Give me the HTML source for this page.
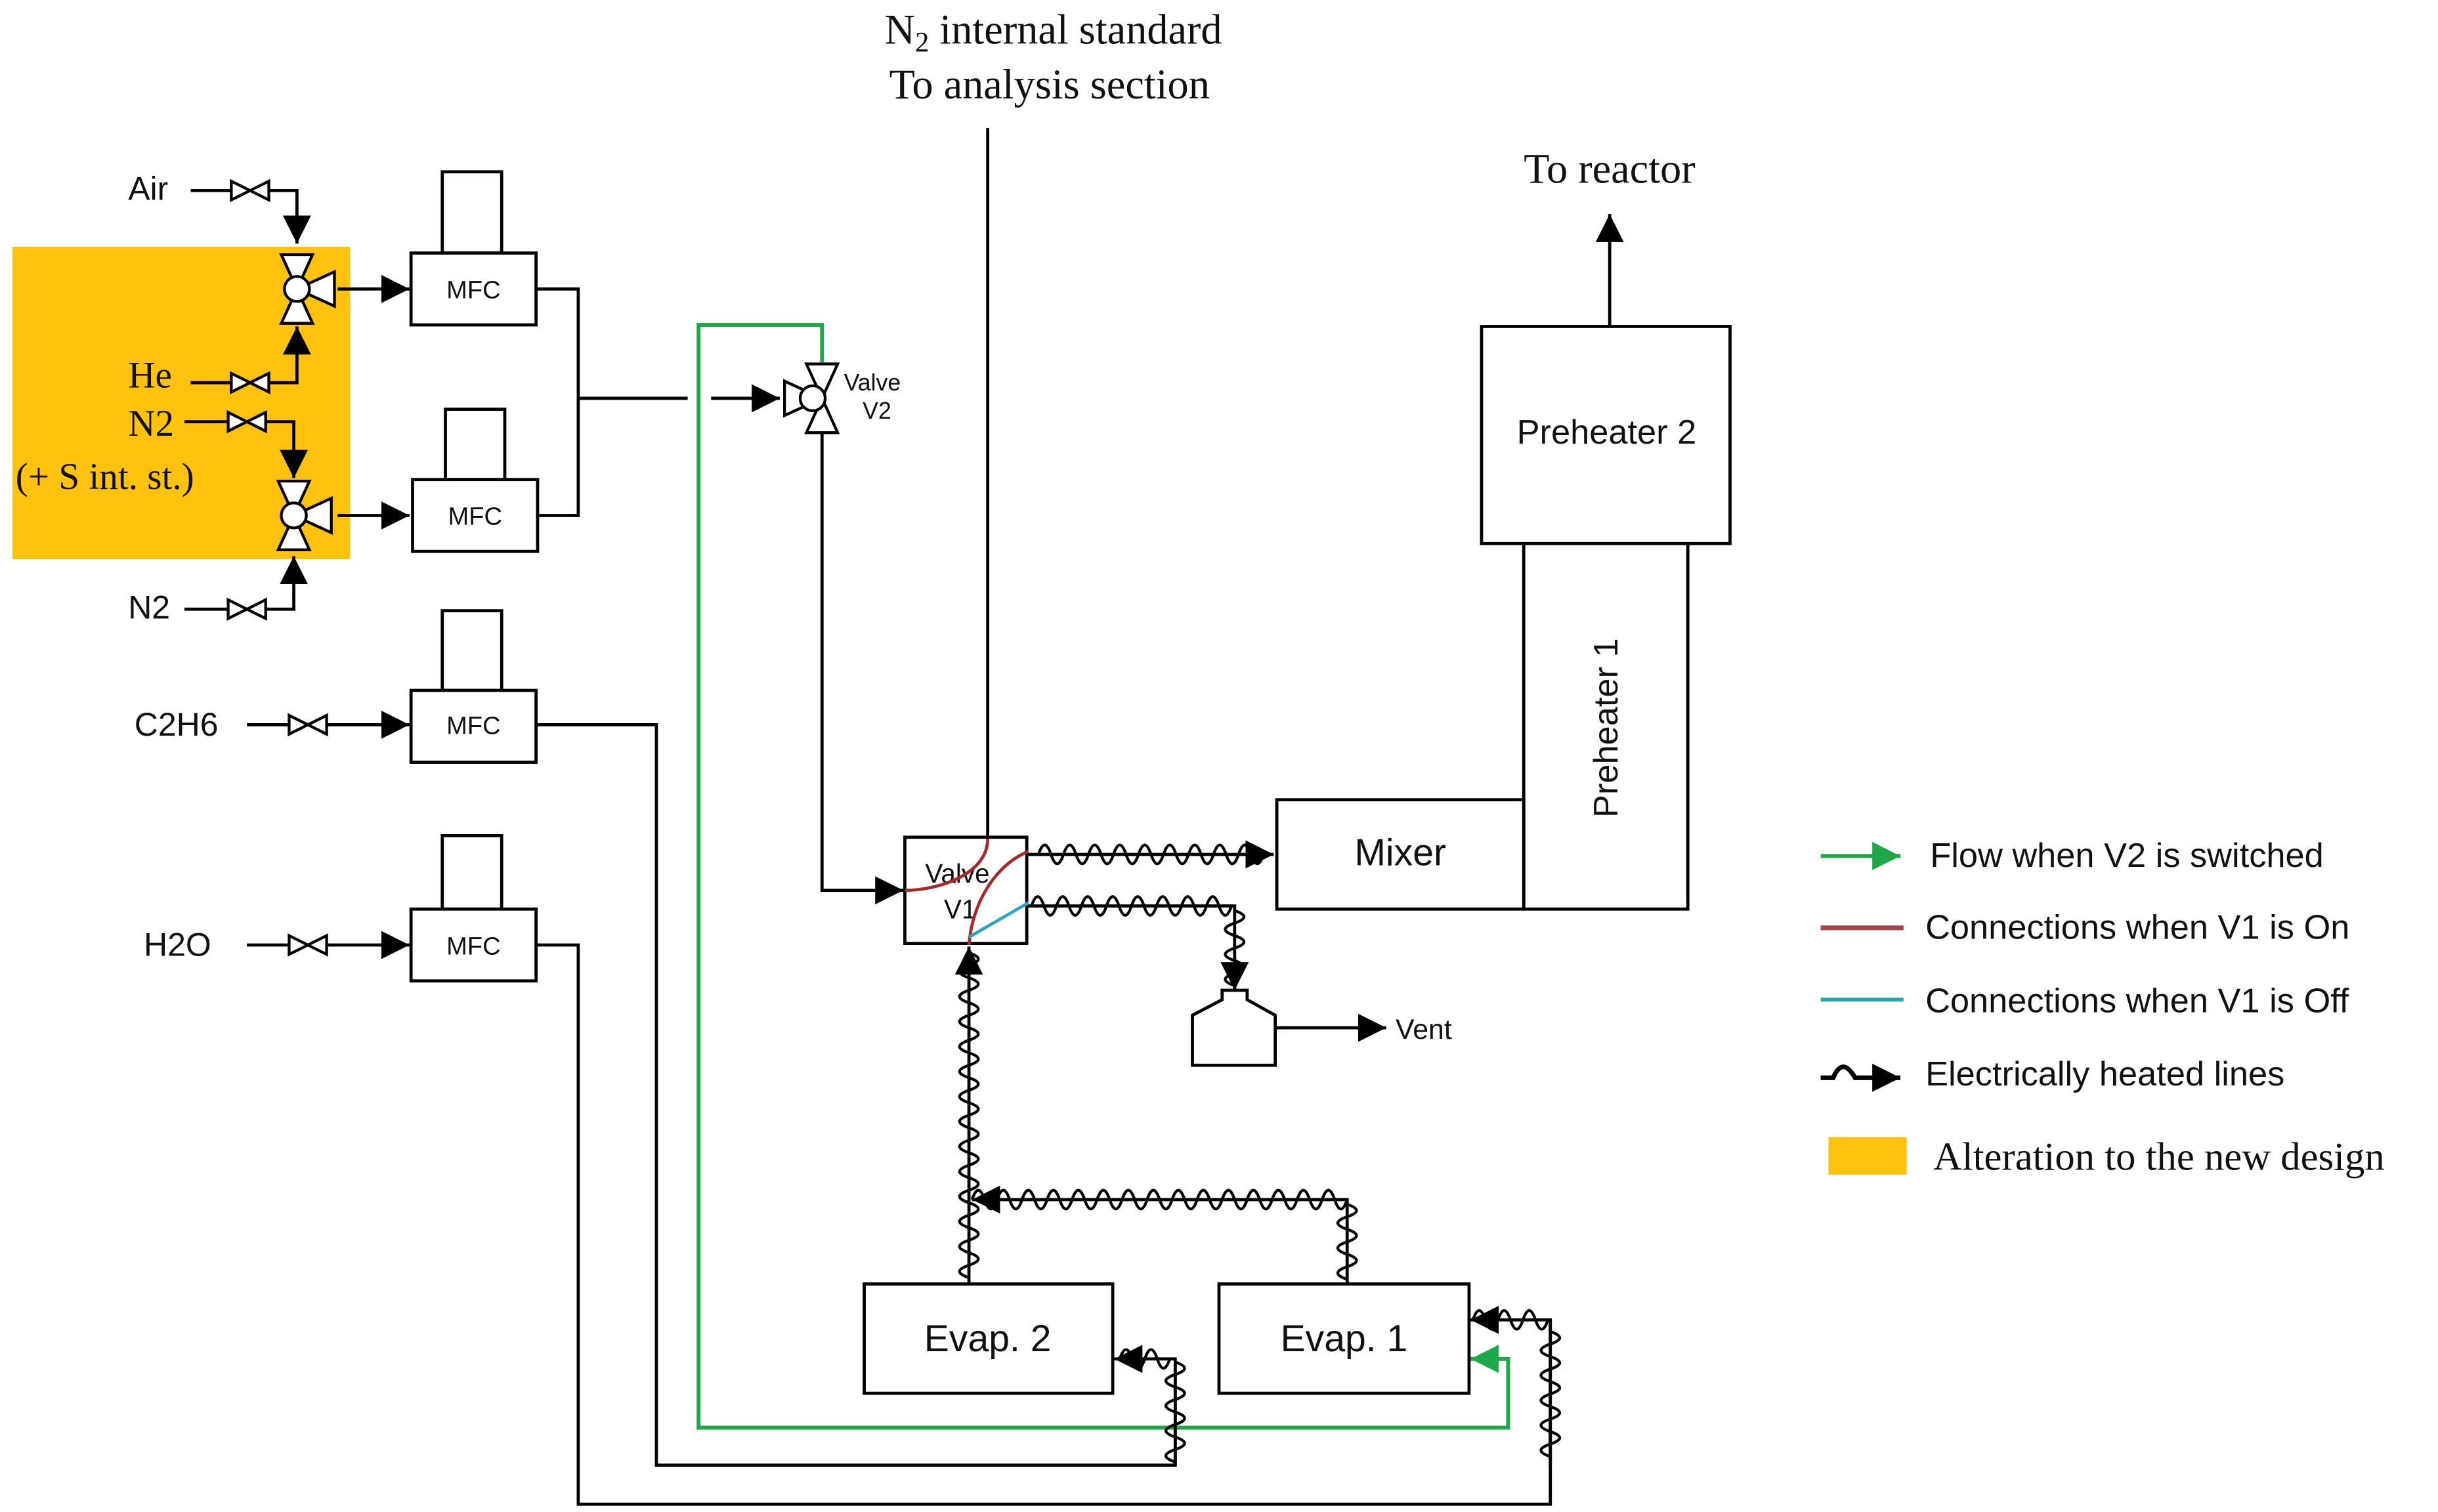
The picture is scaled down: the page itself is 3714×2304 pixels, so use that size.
<!DOCTYPE html>
<html><head><meta charset="utf-8"><style>
html,body{margin:0;padding:0;background:#fff;}
svg{display:block;}
text{font-family:"Liberation Sans",sans-serif;fill:#111;}
.serif{font-family:"Liberation Serif",serif;}
</style></head><body>
<svg width="3714" height="2304" viewBox="0 0 1560 968" preserveAspectRatio="none" xmlns="http://www.w3.org/2000/svg">
<defs>
<marker id="ar" viewBox="0 0 10 10" refX="10" refY="5" markerWidth="7" markerHeight="7" markerUnits="userSpaceOnUse" orient="auto"><path d="M0,0 L10,5 L0,10 z" fill="#000"/></marker>
<marker id="arB" viewBox="0 0 10 10" refX="10" refY="5" markerWidth="18" markerHeight="18" markerUnits="userSpaceOnUse" orient="auto"><path d="M0,0 L10,5 L0,10 z" fill="#000"/></marker>
<marker id="arG" viewBox="0 0 10 10" refX="10" refY="5" markerWidth="18" markerHeight="18" markerUnits="userSpaceOnUse" orient="auto"><path d="M0,0 L10,5 L0,10 z" fill="#1fa84a"/></marker>
</defs>
<rect width="1560" height="968" fill="#fff"/>
<rect x="8" y="158" width="216" height="200" fill="#FFC20E"/>

<text class="serif" x="566" y="28" font-size="27">N<tspan font-size="18" dy="5">2</tspan><tspan dy="-5"> internal standard</tspan></text>
<text class="serif" x="569" y="63" font-size="27">To analysis section</text>
<line x1="632" y1="82" x2="632" y2="537" stroke="#000" stroke-width="2"/>

<g stroke="#000" stroke-width="2" fill="none">
<polyline points="122,122 190,122 190,156" marker-end="url(#arB)"/>
<polyline points="122,245 190,245 190,209" marker-end="url(#arB)"/>
<polyline points="118,270 188,270 188,306" marker-end="url(#arB)"/>
<polyline points="118,390 188,390 188,356" marker-end="url(#arB)"/>
<line x1="216" y1="185" x2="262" y2="185" marker-end="url(#arB)"/>
<line x1="216" y1="330" x2="262" y2="330" marker-end="url(#arB)"/>
<line x1="158" y1="464" x2="262" y2="464" marker-end="url(#arB)"/>
<line x1="158" y1="605" x2="262" y2="605" marker-end="url(#arB)"/>
<polyline points="343,185 370,185 370,330 345,330"/>
<line x1="370" y1="255" x2="440" y2="255"/>
<line x1="455" y1="255" x2="499" y2="255" marker-end="url(#arB)"/>
<polyline points="526,278 526,570 578,570" marker-end="url(#arB)"/>
<polyline points="343,464 420,464 420,938 752,938 752,872"/>
<polyline points="343,605 370,605 370,963 992,963 992,848"/>
<line x1="816" y1="658" x2="887" y2="658" marker-end="url(#arB)"/>
<line x1="1030" y1="209" x2="1030" y2="137" marker-end="url(#arB)"/>
</g>

<polyline points="526,232 526,208 447,208 447,914 965,914 965,870 941,870" fill="none" stroke="#1fa84a" stroke-width="2.5" marker-end="url(#arG)"/>

<g fill="#fff" stroke="#000" stroke-width="1.8">
<path d="M148,116 L148,128 L160,122 Z M172,116 L172,128 L160,122 Z"/>
<path d="M148,239 L148,251 L160,245 Z M172,239 L172,251 L160,245 Z"/>
<path d="M146,264 L146,276 L158,270 Z M170,264 L170,276 L158,270 Z"/>
<path d="M146,384 L146,396 L158,390 Z M170,384 L170,396 L158,390 Z"/>
<path d="M185,458 L185,470 L197,464 Z M209,458 L209,470 L197,464 Z"/>
<path d="M185,599 L185,611 L197,605 Z M209,599 L209,611 L197,605 Z"/>
</g>

<g fill="#fff" stroke="#000" stroke-width="1.8">
<path d="M180,163 L200,163 L190,185 Z M180,207 L200,207 L190,185 Z M214,174 L214,196 L190,185 Z"/><circle cx="190" cy="185" r="8"/>
<path d="M178,308 L198,308 L188,330 Z M178,352 L198,352 L188,330 Z M212,319 L212,341 L188,330 Z"/><circle cx="188" cy="330" r="8"/>
<path d="M516,233 L536,233 L526,255 Z M516,277 L536,277 L526,255 Z M502,244 L502,266 L526,255 Z"/><circle cx="520" cy="255" r="8"/>
</g>

<g fill="#fff" stroke="#000" stroke-width="2">
<rect x="283" y="110" width="38" height="52"/><rect x="263" y="162" width="80" height="46"/>
<rect x="285" y="262" width="38" height="45"/><rect x="264" y="307" width="80" height="46"/>
<rect x="283" y="391" width="38" height="51"/><rect x="263" y="442" width="80" height="46"/>
<rect x="283" y="535" width="38" height="47"/><rect x="263" y="582" width="80" height="46"/>
<rect x="948" y="209" width="159" height="139"/>
<rect x="975" y="348" width="105" height="234"/>
<rect x="817" y="512" width="158" height="70"/>
<rect x="579" y="536" width="78" height="68"/>
<path d="M763,682 L763,650 L782,640 L782,634 L798,634 L798,640 L816,650 L816,682 Z"/>
<rect x="553" y="822" width="159" height="70"/>
<rect x="780" y="822" width="160" height="70"/>
</g>

<g font-size="16" text-anchor="middle">
<text x="303" y="191">MFC</text><text x="304" y="336">MFC</text>
<text x="303" y="470">MFC</text><text x="303" y="611">MFC</text>
</g>
<g font-size="21">
<text x="82" y="128">Air</text>
<text x="82" y="396">N2</text>
<text x="86" y="471">C2H6</text>
<text x="92" y="612">H2O</text>
</g>
<text class="serif" x="82" y="248" font-size="24">He</text>
<text class="serif" x="82" y="279" font-size="24">N2</text>
<text class="serif" x="10" y="313" font-size="24">(+ S int. st.)</text>
<text class="serif" x="975" y="117" font-size="27">To reactor</text>
<text x="540" y="250" font-size="15">Valve</text>
<text x="552" y="268" font-size="15">V2</text>
<text x="1028" y="284" font-size="22" text-anchor="middle">Preheater 2</text>
<text x="0" y="0" font-size="22" text-anchor="middle" transform="translate(1035,466) rotate(-90)">Preheater 1</text>
<text x="896" y="554" font-size="24" text-anchor="middle">Mixer</text>
<text x="632" y="865" font-size="24" text-anchor="middle">Evap. 2</text>
<text x="860" y="865" font-size="24" text-anchor="middle">Evap. 1</text>
<text x="893" y="665" font-size="18">Vent</text>
<text x="592" y="565" font-size="17" fill="#333">Valve</text>
<text x="604" y="588" font-size="17" fill="#333">V1</text>

<path d="M632,537 C632,560 600,570 579,570" fill="none" stroke="#a52a2a" stroke-width="2"/>
<path d="M658,545 C635,555 622,580 620,605" fill="none" stroke="#a52a2a" stroke-width="2"/>
<path d="M620,600 L658,578" fill="none" stroke="#2aa6c6" stroke-width="2"/>

<g id="waves" fill="none" stroke="#000" stroke-width="2"></g>

<line x1="1165" y1="548" x2="1216" y2="548" stroke="#1fa84a" stroke-width="2.5" marker-end="url(#arG)"/>
<line x1="1165" y1="594" x2="1218" y2="594" stroke="#a5454a" stroke-width="3"/>
<line x1="1165" y1="640" x2="1218" y2="640" stroke="#2aa6a6" stroke-width="2.5"/>
<path d="M1165,690 h8 q6,-14 14,0 h29" fill="none" stroke="#000" stroke-width="3" marker-end="url(#arB)"/>
<rect x="1170" y="728" width="50" height="24" fill="#FFC20E"/>
<g font-size="22">
<text x="1235" y="555">Flow when V2 is switched</text>
<text x="1232" y="601">Connections when V1 is On</text>
<text x="1232" y="648">Connections when V1 is Off</text>
<text x="1232" y="695">Electrically heated lines</text>
</g>
<text class="serif" x="1237" y="749" font-size="25.5">Alteration to the new design</text>
</svg>
<script>
(function(){
var g=document.getElementById('waves');var NS='http://www.w3.org/2000/svg';
function wave(pts,arrow){
 var d='';var s='';
 for(var i=0;i<pts.length-1;i++){
  var a=pts[i],b=pts[i+1];var dx=b[0]-a[0],dy=b[1]-a[1];var L=Math.hypot(dx,dy);var ux=dx/L,uy=dy/L;var nx=-uy,ny=ux;
  s+=(i==0?'M':'L')+a[0]+','+a[1]+' ';
  var n=Math.floor(L/16);var st=(L-n*16)/2;
  for(var k=0;k<n;k++){
   var t0=st+k*16;var x0=a[0]+ux*t0,y0=a[1]+uy*t0;
   d+='M'+x0+','+y0+' q'+(ux*4+nx*-12)+','+(uy*4+ny*-12)+' '+(ux*8)+','+(uy*8)+' q'+(ux*4+nx*12)+','+(uy*4+ny*12)+' '+(ux*8)+','+(uy*8)+' ';
  }
 }
 var l=pts[pts.length-1];s+='L'+l[0]+','+l[1];
 var p=document.createElementNS(NS,'path');p.setAttribute('d',s);if(arrow)p.setAttribute('marker-end','url(#arB)');g.appendChild(p);
 var q=document.createElementNS(NS,'path');q.setAttribute('d',d);q.setAttribute('stroke-width','1.8');g.appendChild(q);
}
wave([[658,547],[815,547]],1);
wave([[658,580],[790,580],[790,634]],1);
wave([[620,822],[620,606]],1);
wave([[862,822],[862,768],[622,768]],1);
wave([[752,938],[752,870],[713,870]],1);
wave([[992,940],[992,845],[941,845]],1);
})();
</script>
</body></html>
